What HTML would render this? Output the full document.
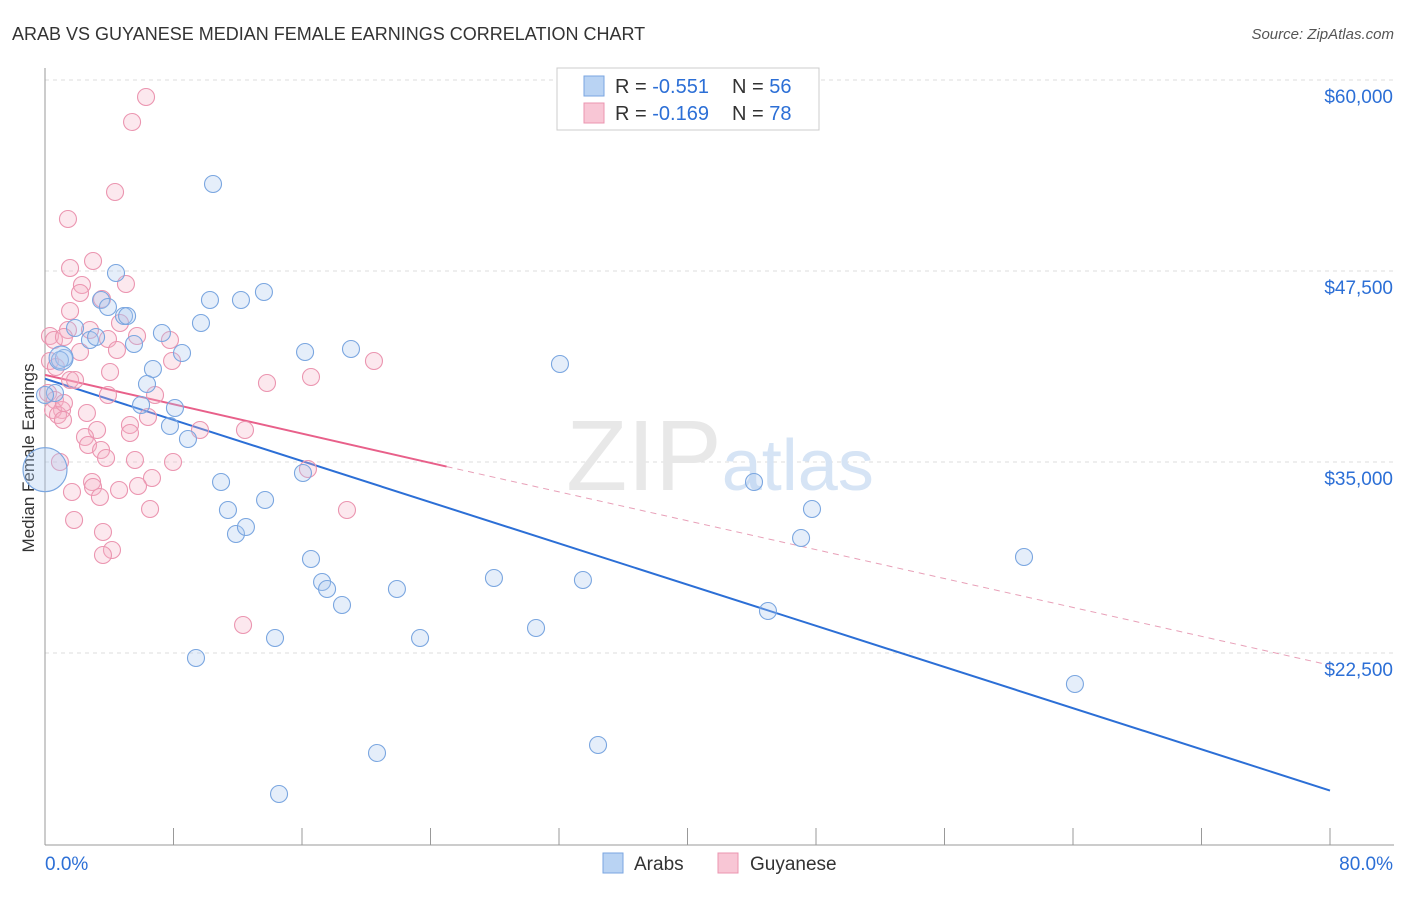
<!DOCTYPE html>
<html><head><meta charset="utf-8"><style>
body{margin:0;background:#fff;font-family:"Liberation Sans",sans-serif;}
svg text{font-family:"Liberation Sans",sans-serif;}
</style></head><body>
<svg id="chart" width="1406" height="892">
<text x="12" y="40" font-size="18" fill="#333">ARAB VS GUYANESE MEDIAN FEMALE EARNINGS CORRELATION CHART</text>
<text x="1394" y="39" font-size="15" fill="#555" text-anchor="end" font-style="italic">Source: ZipAtlas.com</text>
<text x="34" y="458" font-size="17" fill="#333" text-anchor="middle" transform="rotate(-90 34 458)">Median Female Earnings</text>
<g id="grid"></g>
<g id="axes"></g>
<text x="720" y="490" font-size="100" fill="#e8e8e8" text-anchor="middle" font-family="Liberation Serif">ZIP<tspan fill="#d6e4f5" font-family="Liberation Sans" font-size="72">atlas</tspan></text>
<g id="lines"></g>
<g id="pts"></g>
<g>
<rect x="557" y="68" width="262" height="62" fill="#fff" stroke="#ccc"/>
<rect x="584" y="76" width="20" height="20" fill="#b9d3f3" stroke="#7aa6e0"/>
<rect x="584" y="103" width="20" height="20" fill="#f8c6d5" stroke="#eb95b0"/>
<text x="615" y="93" font-size="20" fill="#333">R = <tspan fill="#2c6fd6">-0.551</tspan></text>
<text x="732" y="93" font-size="20" fill="#333">N = <tspan fill="#2c6fd6">56</tspan></text>
<text x="615" y="120" font-size="20" fill="#333">R = <tspan fill="#2c6fd6">-0.169</tspan></text>
<text x="732" y="120" font-size="20" fill="#333">N = <tspan fill="#2c6fd6">78</tspan></text>
</g>
<g>
<rect x="603" y="853" width="20" height="20" fill="#b9d3f3" stroke="#7aa6e0"/>
<text x="634" y="870" font-size="19" fill="#333">Arabs</text>
<rect x="718" y="853" width="20" height="20" fill="#f8c6d5" stroke="#eb95b0"/>
<text x="750" y="870" font-size="19" fill="#333">Guyanese</text>
</g>
</svg>
<script>
const yTicks=[60000,47500,35000,22500];
const yTickLabels=["$60,000","$47,500","$35,000","$22,500"];
const xTicks=[0,8,16,24,32,40,48,56,64,72,80];
const arabsPx=[[213,184],[116,273],[101,300],[108,307],[124,316],[127,316],[75,328],[90,340],[96,337],[64,358],[134,344],[162,333],[182,353],[153,369],[147,384],[141,405],[175,408],[170,426],[188,439],[210,300],[241,300],[264,292],[201,323],[305,352],[351,349],[560,364],[221,482],[228,510],[236,534],[246,527],[265,500],[303,473],[754,482],[812,509],[801,538],[311,559],[322,582],[327,589],[342,605],[397,589],[494,578],[583,580],[1024,557],[768,611],[536,628],[275,638],[420,638],[196,658],[1075,684],[377,753],[598,745],[279,794],[55,393],[60,360],[45,395]];
const guyPx=[[146,97],[132,122],[115,192],[68,219],[70,268],[93,261],[82,285],[126,284],[80,293],[102,299],[70,311],[50,336],[54,340],[90,330],[120,323],[68,330],[64,337],[108,339],[137,336],[170,340],[80,352],[117,350],[172,361],[50,361],[56,367],[110,372],[70,380],[75,380],[48,393],[55,400],[108,395],[155,395],[62,410],[53,410],[58,415],[87,413],[63,420],[148,417],[97,430],[130,425],[130,433],[200,430],[245,430],[85,437],[88,445],[101,450],[106,458],[60,462],[135,460],[267,383],[311,377],[374,361],[152,478],[92,482],[93,487],[119,490],[138,486],[72,492],[100,497],[150,509],[347,510],[74,520],[103,532],[112,550],[103,555],[243,625],[308,469],[173,462],[64,403]];
const arabsX=arabsPx.map(p=>+((p[0]-45)/1285*80).toFixed(2));
const arabsY=arabsPx.map(p=>Math.round(60000-(p[1]-80)*12500/191));
const guyX=guyPx.map(p=>+((p[0]-45)/1285*80).toFixed(2));
const guyY=guyPx.map(p=>Math.round(60000-(p[1]-80)*12500/191));
const arabsTrend=[[0,40450],[80,13500]];
const guyTrend=[[0,40700],[25,34700],[80,21700]];

const NS="http://www.w3.org/2000/svg";
const X=v=>45+v/80*1285;
const Y=v=>80+(60000-v)/12500*191;
function mk(tag,attrs,parent){const e=document.createElementNS(NS,tag);for(const k in attrs)e.setAttribute(k,attrs[k]);document.getElementById(parent).appendChild(e);return e;}
yTicks.forEach((t,i)=>{
 const l=mk('line',{x1:45,x2:1394,y1:Y(t),y2:Y(t),stroke:'#ddd','stroke-dasharray':'4,4'},'grid');
 
 
 const tx=mk('text',{x:1393,y:Y(t)+23,'font-size':19,fill:'#2c6fd6','text-anchor':'end'},'axes');
 tx.textContent=yTickLabels[i];
 
 
});
mk('line',{x1:45,x2:45,y1:68,y2:845,stroke:'#999'},'axes');
mk('line',{x1:45,x2:1394,y1:845,y2:845,stroke:'#999'},'axes');
xTicks.forEach(t=>{
 const l=mk('line',{x1:X(t),x2:X(t),y1:828,y2:845,stroke:'#999'},'axes');
 
 
});
let t0=mk('text',{x:45,y:870,'font-size':19,fill:'#2c6fd6'},'axes');t0.textContent='0.0%';


let t1=mk('text',{x:1393,y:870,'font-size':19,fill:'#2c6fd6','text-anchor':'end'},'axes');t1.textContent='80.0%';



guyX.forEach((x,i)=>{
 const c=mk('circle',{cx:X(x),cy:Y(guyY[i]),r:8.5,fill:'rgba(246,180,200,0.3)',stroke:'#eb95b0','stroke-width':1.1},'pts');
 
 
});
arabsX.forEach((x,i)=>{
 const c=mk('circle',{cx:X(x),cy:Y(arabsY[i]),r:8.5,fill:'rgba(170,200,240,0.3)',stroke:'#7aa6e0','stroke-width':1.1},'pts');
 
 
});
let big=mk('circle',{cx:X(0),cy:Y(34500),r:22,fill:'rgba(170,200,240,0.35)',stroke:'#7aa6e0','stroke-width':1.1},'pts');


let big2=mk('circle',{cx:X(1),cy:Y(41800),r:12,fill:'rgba(170,200,240,0.35)',stroke:'#7aa6e0','stroke-width':1.1},'pts');



let bl=mk('line',{x1:X(arabsTrend[0][0]),y1:Y(arabsTrend[0][1]),x2:X(arabsTrend[1][0]),y2:Y(arabsTrend[1][1]),stroke:'#2c6fd6','stroke-width':2},'lines');


let pl=mk('line',{x1:X(guyTrend[0][0]),y1:Y(guyTrend[0][1]),x2:X(guyTrend[1][0]),y2:Y(guyTrend[1][1]),stroke:'#e8608a','stroke-width':2},'lines');


let pd=mk('line',{x1:X(guyTrend[1][0]),y1:Y(guyTrend[1][1]),x2:X(guyTrend[2][0]),y2:Y(guyTrend[2][1]),stroke:'#e8a0b8','stroke-width':1,'stroke-dasharray':'6,5'},'lines');


</script>
</body></html>
